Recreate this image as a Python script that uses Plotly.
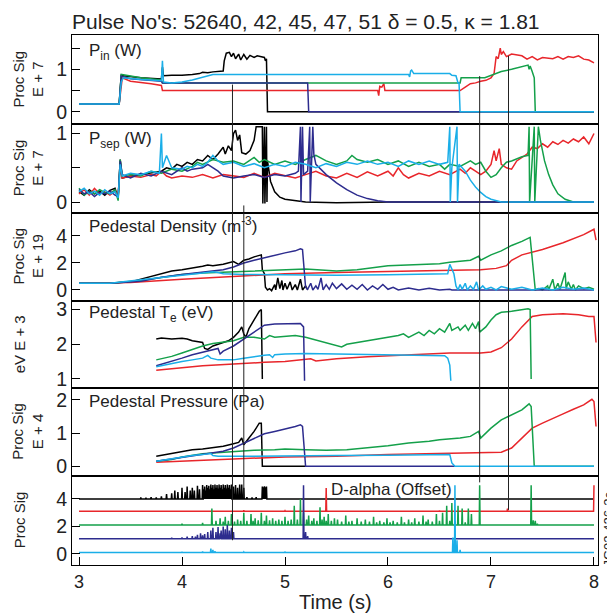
import plotly.graph_objects as go
from plotly.subplots import make_subplots

# ---------------- data (time s, value) ----------------
COLORS = {"black": "#000000", "red": "#e8262b", "green": "#14a04a", "navy": "#2d2c8e", "cyan": "#1aaee8"}
ORDER = ["black", "red", "green", "navy", "cyan"]

pin_black = [(3.0,0.18),(3.39,0.18),(3.41,0.86),(3.45,0.84),(3.6,0.8),(3.8,0.77),(3.81,1.05),(3.82,0.85),(3.9,0.86),(4.0,0.86),(4.1,0.88),(4.17,0.9),(4.2,0.93),(4.25,0.92),(4.3,0.94),(4.35,0.95),(4.4,0.96),(4.41,1.2),(4.43,1.38),(4.46,1.4),(4.48,1.3),(4.5,1.38),(4.52,1.25),(4.55,1.36),(4.57,1.22),(4.6,1.35),(4.63,1.24),(4.66,1.33),(4.7,1.28),(4.73,1.32),(4.76,1.3),(4.8,1.28),(4.81,1.2),(4.82,1.25),(4.83,0.0),(8.0,0.0)]
pin_red = [(3.0,0.18),(3.39,0.18),(3.42,0.8),(3.5,0.72),(3.7,0.66),(3.8,0.62),(3.81,0.5),(5.9,0.5),(5.91,0.38),(5.92,0.6),(5.94,0.58),(5.96,0.66),(5.97,0.5),(6.7,0.5),(6.75,0.58),(6.8,0.66),(6.85,0.68),(6.9,0.72),(6.95,0.74),(7.0,0.8),(7.03,0.9),(7.05,1.3),(7.07,1.25),(7.09,1.5),(7.1,1.35),(7.12,1.42),(7.15,1.3),(7.2,1.36),(7.3,1.32),(7.35,1.24),(7.4,1.3),(7.45,1.22),(7.5,1.28),(7.6,1.25),(7.65,1.3),(7.7,1.24),(7.75,1.3),(7.8,1.28),(7.85,1.32),(7.9,1.24),(7.95,1.22),(8.0,1.15)]
pin_navy = [(3.0,0.18),(3.39,0.18),(3.41,0.84),(3.5,0.78),(3.8,0.72),(3.81,0.68),(5.22,0.68),(5.23,0.0),(8.0,0.0)]
pin_green = [(3.0,0.18),(3.39,0.18),(3.41,0.88),(3.45,0.86),(3.6,0.8),(3.8,0.75),(3.81,0.68),(6.7,0.68),(6.71,0.8),(6.94,0.8),(7.0,0.85),(7.1,0.95),(7.2,1.0),(7.3,1.07),(7.36,1.1),(7.37,1.0),(7.38,1.08),(7.4,0.95),(7.42,0.8),(7.43,0.0),(8.0,0.0)]
pin_cyan = [(3.0,0.18),(3.39,0.18),(3.41,0.7),(3.43,0.8),(3.6,0.76),(3.8,0.73),(3.81,1.2),(3.82,0.7),(3.9,0.68),(4.0,0.7),(4.1,0.75),(4.2,0.82),(4.3,0.88),(6.2,0.88),(6.21,0.82),(6.22,0.96),(6.23,0.98),(6.25,0.9),(6.6,0.9),(6.62,0.86),(6.66,0.85),(6.68,0.68),(6.69,0.68),(6.7,0.0),(8.0,0.0)]

psep_black = [(3.0,0.15),(3.05,0.1),(3.1,0.18),(3.15,0.12),(3.2,0.16),(3.25,0.1),(3.3,0.17),(3.35,0.2),(3.38,0.05),(3.4,0.62),(3.42,0.35),(3.5,0.38),(3.6,0.4),(3.7,0.42),(3.8,0.45),(3.85,0.5),(3.9,0.48),(3.95,0.55),(4.0,0.52),(4.05,0.58),(4.1,0.55),(4.15,0.62),(4.2,0.6),(4.25,0.68),(4.3,0.62),(4.35,0.7),(4.4,0.8),(4.42,0.7),(4.45,0.82),(4.48,0.75),(4.5,1.0),(4.52,1.05),(4.54,0.9),(4.56,0.98),(4.58,0.72),(4.62,0.7),(4.66,0.75),(4.7,0.9),(4.72,1.1),(4.78,1.1),(4.785,-0.02),(4.8,1.1),(4.805,-0.02),(4.82,1.1),(4.825,0.0),(4.83,0.6),(4.86,0.3),(4.9,0.15),(4.95,0.07),(5.0,0.04),(5.1,0.02),(5.2,0.0),(5.5,-0.01),(6.0,0.0),(8.0,0.0)]
psep_red = [(3.0,0.12),(3.05,0.18),(3.1,0.1),(3.15,0.2),(3.2,0.12),(3.25,0.15),(3.3,0.1),(3.35,0.16),(3.38,0.1),(3.4,0.5),(3.42,0.35),(3.5,0.38),(3.6,0.36),(3.7,0.4),(3.75,0.38),(3.8,0.45),(3.85,0.38),(3.9,0.35),(4.0,0.38),(4.1,0.36),(4.2,0.4),(4.3,0.35),(4.4,0.4),(4.5,0.38),(4.6,0.36),(4.7,0.42),(4.8,0.36),(4.9,0.42),(5.0,0.38),(5.1,0.35),(5.2,0.4),(5.3,0.45),(5.4,0.38),(5.5,0.35),(5.6,0.42),(5.7,0.36),(5.8,0.44),(5.9,0.38),(6.0,0.45),(6.05,0.38),(6.1,0.5),(6.15,0.4),(6.2,0.35),(6.3,0.42),(6.4,0.38),(6.5,0.45),(6.6,0.4),(6.7,0.48),(6.75,0.42),(6.8,0.5),(6.85,0.45),(6.9,0.4),(6.95,0.45),(7.0,0.55),(7.03,0.75),(7.05,0.6),(7.08,0.78),(7.1,0.55),(7.15,0.5),(7.2,0.48),(7.25,0.6),(7.3,0.65),(7.35,0.7),(7.4,0.8),(7.45,0.78),(7.5,0.85),(7.55,0.8),(7.6,0.88),(7.65,0.84),(7.7,0.9),(7.75,0.86),(7.8,0.92),(7.85,0.88),(7.9,0.95),(7.95,0.85),(8.0,1.0)]
psep_green = [(3.0,0.2),(3.05,0.1),(3.1,0.16),(3.15,0.12),(3.2,0.18),(3.25,0.14),(3.3,0.12),(3.35,0.18),(3.38,0.02),(3.4,0.62),(3.42,0.38),(3.5,0.4),(3.6,0.38),(3.7,0.45),(3.8,0.42),(3.9,0.48),(4.0,0.45),(4.1,0.52),(4.15,0.58),(4.2,0.55),(4.3,0.62),(4.4,0.58),(4.5,0.6),(4.6,0.55),(4.7,0.65),(4.75,0.58),(4.8,0.62),(4.9,0.55),(5.0,0.6),(5.1,0.55),(5.2,0.62),(5.3,0.68),(5.4,0.6),(5.5,0.55),(5.6,0.6),(5.65,0.68),(5.7,0.62),(5.8,0.58),(5.9,0.62),(6.0,0.55),(6.1,0.6),(6.2,0.52),(6.3,0.58),(6.4,0.52),(6.5,0.55),(6.55,0.48),(6.6,0.55),(6.7,0.52),(6.8,0.6),(6.85,0.55),(6.9,0.58),(6.95,0.45),(7.0,0.36),(7.05,0.4),(7.1,0.5),(7.15,0.58),(7.2,0.6),(7.25,0.63),(7.3,0.66),(7.36,0.68),(7.37,1.1),(7.375,0.0),(7.42,1.1),(7.425,0.0),(7.46,1.1),(7.48,0.9),(7.52,0.6),(7.56,0.4),(7.6,0.25),(7.65,0.12),(7.72,0.04),(7.8,0.0),(8.0,0.0)]
psep_navy = [(3.0,0.18),(3.05,0.12),(3.1,0.15),(3.15,0.08),(3.2,0.14),(3.25,0.12),(3.3,0.16),(3.35,0.1),(3.38,0.08),(3.4,0.6),(3.42,0.4),(3.5,0.35),(3.6,0.42),(3.7,0.38),(3.8,0.45),(3.9,0.4),(4.0,0.5),(4.05,0.45),(4.1,0.48),(4.2,0.5),(4.25,0.55),(4.3,0.5),(4.35,0.45),(4.4,0.38),(4.5,0.35),(4.6,0.38),(4.7,0.4),(4.8,0.36),(4.9,0.4),(5.0,0.38),(5.1,0.42),(5.13,0.45),(5.15,1.1),(5.155,0.0),(5.17,1.1),(5.18,0.4),(5.22,0.45),(5.24,1.1),(5.245,0.0),(5.27,1.1),(5.28,0.7),(5.3,0.55),(5.35,0.48),(5.4,0.4),(5.5,0.28),(5.6,0.18),(5.7,0.1),(5.8,0.05),(5.9,0.02),(6.0,0.0),(8.0,0.0)]
psep_cyan = [(3.0,0.15),(3.05,0.2),(3.1,0.12),(3.15,0.16),(3.2,0.1),(3.25,0.18),(3.3,0.12),(3.35,0.15),(3.38,0.06),(3.4,0.55),(3.42,0.38),(3.5,0.42),(3.6,0.4),(3.7,0.45),(3.78,0.42),(3.8,1.0),(3.81,0.5),(3.85,0.68),(3.9,0.5),(4.0,0.48),(4.05,0.52),(4.1,0.5),(4.15,0.55),(4.2,0.52),(4.25,0.58),(4.3,0.68),(4.35,0.6),(4.4,0.55),(4.5,0.58),(4.6,0.52),(4.7,0.56),(4.8,0.5),(4.9,0.55),(5.0,0.52),(5.1,0.58),(5.2,0.55),(5.3,0.5),(5.4,0.56),(5.5,0.52),(5.6,0.58),(5.7,0.55),(5.8,0.6),(5.9,0.55),(6.0,0.58),(6.1,0.52),(6.2,0.6),(6.3,0.55),(6.4,0.6),(6.5,0.55),(6.58,0.58),(6.6,1.1),(6.605,0.0),(6.62,0.5),(6.67,1.1),(6.675,0.0),(6.69,0.55),(6.75,0.45),(6.8,0.32),(6.85,0.22),(6.9,0.14),(6.95,0.08),(7.0,0.04),(7.1,0.0),(8.0,0.0)]

dens_black = [(3.0,0.5),(3.3,0.5),(3.5,0.6),(3.6,0.8),(3.7,1.0),(3.8,1.2),(3.9,1.4),(4.0,1.5),(4.1,1.6),(4.2,1.75),(4.25,1.85),(4.3,1.8),(4.4,1.9),(4.45,2.0),(4.5,2.1),(4.55,1.9),(4.6,2.2),(4.65,2.3),(4.7,2.45),(4.77,2.6),(4.78,1.5),(4.8,1.2),(4.81,0.2),(4.83,0.0),(4.85,0.1),(4.87,-0.05),(4.9,0.4),(4.91,0.0),(4.93,0.9),(4.95,0.1),(4.97,0.7),(4.98,0.0),(5.0,0.5),(5.02,0.05),(5.05,0.6),(5.07,0.0),(5.1,0.4),(5.12,0.0),(5.15,0.8),(5.17,0.0),(5.2,0.3),(5.22,0.0)]
dens_red = [(3.0,0.5),(3.5,0.55),(4.0,0.8),(4.5,1.0),(5.0,1.2),(5.5,1.3),(6.0,1.35),(6.2,1.4),(6.5,1.45),(6.9,1.5),(7.05,1.6),(7.15,1.8),(7.2,2.2),(7.3,2.6),(7.5,3.0),(7.7,3.5),(7.9,4.1),(8.0,4.5),(8.02,3.7)]
dens_green = [(3.0,0.5),(3.3,0.5),(3.6,0.7),(3.8,0.95),(4.0,1.15),(4.2,1.25),(4.5,1.35),(4.8,1.45),(5.0,1.5),(5.2,1.55),(5.5,1.4),(5.7,1.5),(6.0,1.8),(6.2,1.85),(6.5,1.95),(6.6,2.05),(6.8,2.2),(6.88,2.5),(6.9,2.2),(7.0,2.6),(7.1,2.9),(7.2,3.3),(7.3,3.6),(7.38,3.9),(7.4,2.3),(7.43,0.0),(7.46,0.1),(7.5,0.0),(7.55,0.3),(7.56,0.0),(7.6,0.8),(7.62,0.0),(7.65,0.5),(7.67,0.05),(7.72,1.3),(7.73,0.1),(7.75,0.6),(7.78,0.05),(7.8,0.4),(7.82,0.0),(7.85,0.3),(7.9,0.1),(7.95,0.2),(8.0,0.05)]
dens_navy = [(3.0,0.5),(3.3,0.5),(3.6,0.65),(3.8,0.95),(4.0,1.15),(4.2,1.3),(4.4,1.5),(4.5,1.7),(4.6,2.0),(4.7,2.2),(4.8,2.4),(4.9,2.6),(5.0,2.75),(5.1,2.9),(5.15,3.05),(5.17,3.0),(5.2,0.2),(5.22,0.05),(5.25,0.5),(5.27,0.0),(5.3,0.3),(5.32,0.05),(5.35,0.9),(5.37,0.0),(5.4,0.4),(5.43,0.05),(5.46,0.5),(5.5,0.1),(5.55,0.45),(5.6,0.05),(5.65,0.35),(5.7,0.05),(5.75,0.4),(5.8,0.0),(5.85,0.3),(5.9,0.05),(5.95,0.4),(6.0,0.05),(6.05,0.2),(6.1,0.0),(6.2,0.15),(6.3,0.0),(6.4,0.12),(6.5,0.0),(6.6,0.05),(6.62,0.0),(8.0,0.0)]
dens_cyan = [(3.0,0.5),(3.3,0.5),(3.6,0.75),(3.8,0.95),(4.0,1.1),(4.2,1.25),(4.3,1.35),(4.35,1.3),(4.4,1.2),(4.6,1.15),(5.0,1.12),(5.5,1.1),(6.0,1.12),(6.5,1.15),(6.58,1.2),(6.6,1.9),(6.62,1.6),(6.64,1.2),(6.66,0.3),(6.68,0.0),(6.7,0.4),(6.72,0.05),(6.75,0.5),(6.77,0.0),(6.8,0.3),(6.83,0.05),(6.86,0.6),(6.88,0.0),(6.92,0.3),(6.95,0.05),(7.0,0.2),(7.05,0.0),(7.1,0.25),(7.2,0.05),(7.3,0.2),(7.4,0.0),(7.5,0.15),(7.6,0.0),(7.7,0.2),(7.8,0.05),(7.9,0.15),(8.0,0.0)]

te_black = [(3.75,2.15),(3.8,2.18),(3.9,2.15),(4.0,2.17),(4.05,2.15),(4.1,2.1),(4.2,2.05),(4.22,1.88),(4.25,1.85),(4.3,1.95),(4.35,2.0),(4.4,2.05),(4.45,2.1),(4.5,2.2),(4.55,2.35),(4.58,2.5),(4.6,2.3),(4.62,2.2),(4.65,2.45),(4.7,2.7),(4.75,2.95),(4.77,3.0),(4.78,1.0)]
te_red = [(3.75,1.25),(3.9,1.28),(4.0,1.32),(4.2,1.38),(4.4,1.42),(4.6,1.45),(4.8,1.48),(5.0,1.5),(5.2,1.55),(5.25,1.58),(5.3,1.52),(5.5,1.58),(5.8,1.64),(6.0,1.67),(6.3,1.7),(6.6,1.75),(6.9,1.75),(7.0,1.78),(7.1,1.9),(7.2,2.15),(7.3,2.5),(7.35,2.65),(7.4,2.8),(7.5,2.85),(7.7,2.88),(7.85,2.85),(7.95,2.8),(8.0,2.8),(8.02,2.05)]
te_green = [(3.75,1.55),(3.9,1.65),(4.0,1.75),(4.1,1.85),(4.2,1.95),(4.3,2.02),(4.4,2.05),(4.5,2.1),(4.6,2.2),(4.7,2.2),(4.8,2.15),(4.85,2.25),(4.9,2.2),(5.0,2.22),(5.1,2.25),(5.2,2.2),(5.3,2.12),(5.4,2.05),(5.5,1.98),(5.55,1.92),(5.6,2.0),(5.7,2.05),(5.8,2.1),(5.9,2.15),(6.0,2.2),(6.1,2.25),(6.15,2.3),(6.2,2.2),(6.3,2.35),(6.35,2.25),(6.4,2.4),(6.45,2.3),(6.5,2.45),(6.55,2.35),(6.6,2.6),(6.62,2.4),(6.68,2.5),(6.7,2.4),(6.75,2.55),(6.78,2.4),(6.82,2.6),(6.85,2.45),(6.88,2.65),(6.89,2.35),(6.95,2.5),(7.0,2.7),(7.05,2.85),(7.1,2.92),(7.2,2.95),(7.3,3.0),(7.36,3.02),(7.38,3.0),(7.39,1.0)]
te_navy = [(3.75,1.38),(3.9,1.5),(4.0,1.6),(4.1,1.7),(4.2,1.78),(4.3,1.85),(4.35,1.88),(4.37,1.72),(4.4,1.8),(4.5,1.95),(4.6,2.15),(4.7,2.35),(4.8,2.55),(4.9,2.58),(5.0,2.58),(5.1,2.6),(5.15,2.6),(5.18,2.5),(5.19,0.95)]
te_cyan = [(3.75,1.35),(3.9,1.45),(4.0,1.5),(4.1,1.55),(4.2,1.6),(4.25,1.68),(4.28,1.6),(4.35,1.55),(4.5,1.55),(4.6,1.6),(4.7,1.65),(4.8,1.68),(4.85,1.7),(4.88,1.62),(4.9,1.7),(5.0,1.72),(5.2,1.73),(5.4,1.72),(5.6,1.73),(5.8,1.72),(6.0,1.7),(6.2,1.7),(6.4,1.68),(6.55,1.67),(6.58,1.6),(6.6,1.4),(6.61,0.95)]

pres_black = [(3.75,0.3),(3.9,0.38),(4.0,0.45),(4.1,0.5),(4.2,0.52),(4.3,0.55),(4.4,0.6),(4.5,0.68),(4.55,0.72),(4.58,0.85),(4.6,0.65),(4.65,0.85),(4.7,1.05),(4.75,1.3),(4.77,1.3),(4.78,0.0),(5.2,0.0)]
pres_red = [(3.75,0.12),(4.0,0.16),(4.5,0.22),(5.0,0.28),(5.5,0.3),(6.0,0.35),(6.5,0.38),(6.9,0.4),(7.1,0.42),(7.2,0.55),(7.3,0.85),(7.4,1.15),(7.5,1.3),(7.6,1.45),(7.7,1.58),(7.8,1.72),(7.9,1.85),(7.98,2.02),(8.0,1.95),(8.02,1.2)]
pres_green = [(3.75,0.15),(3.9,0.2),(4.0,0.28),(4.1,0.33),(4.2,0.38),(4.3,0.4),(4.5,0.45),(4.7,0.48),(4.9,0.5),(5.0,0.52),(5.2,0.5),(5.4,0.48),(5.6,0.5),(5.8,0.55),(6.0,0.62),(6.2,0.7),(6.4,0.75),(6.5,0.8),(6.6,0.82),(6.7,0.85),(6.8,0.9),(6.88,1.05),(6.9,0.85),(7.0,1.15),(7.1,1.4),(7.2,1.55),(7.3,1.7),(7.37,1.88),(7.39,1.8),(7.42,0.0),(8.0,0.0)]
pres_navy = [(3.75,0.15),(3.9,0.22),(4.0,0.28),(4.1,0.33),(4.2,0.37),(4.3,0.42),(4.4,0.45),(4.5,0.55),(4.6,0.7),(4.7,0.85),(4.8,0.98),(4.9,1.05),(5.0,1.12),(5.1,1.2),(5.15,1.25),(5.17,1.2),(5.2,0.0),(6.65,0.0)]
pres_cyan = [(3.75,0.15),(3.9,0.22),(4.0,0.28),(4.1,0.32),(4.2,0.35),(4.28,0.38),(4.3,0.32),(4.35,0.3),(4.6,0.3),(5.0,0.3),(5.5,0.32),(6.0,0.33),(6.5,0.35),(6.6,0.35),(6.62,0.1),(6.65,0.0),(8.0,0.0)]

# D-alpha: offset baseline per pulse + spikes (time, peak)
da_base = {"black": 4.0, "red": 3.1, "green": 2.1, "navy": 1.1, "cyan": 0.1}
da_black_spikes = [(3.6,4.1),(3.65,4.08),(3.7,4.12),(3.75,4.1),(3.8,4.18),(3.85,4.35),(3.9,4.4),(3.93,4.6),(3.96,4.5),(4.0,4.8),(4.03,4.5),(4.05,4.9),(4.08,4.6),(4.1,4.8),(4.12,4.6),(4.15,4.95),(4.17,4.7),(4.2,5.0),(4.21,4.7),(4.22,4.9),(4.23,4.6),(4.24,5.0),(4.25,4.8),(4.26,4.95),(4.27,4.7),(4.28,5.05),(4.29,4.8),(4.3,5.0),(4.31,4.7),(4.32,5.05),(4.33,4.8),(4.34,5.0),(4.35,4.75),(4.36,5.05),(4.37,4.8),(4.38,5.0),(4.39,4.7),(4.4,5.05),(4.41,4.8),(4.42,5.0),(4.43,4.75),(4.44,5.05),(4.45,4.8),(4.46,5.0),(4.47,4.7),(4.48,5.05),(4.5,4.9),(4.52,5.0),(4.54,4.8),(4.56,5.05),(4.58,5.05),(4.6,4.8),(4.63,4.12),(4.68,4.1),(4.72,4.12),(4.78,4.9),(4.79,4.85),(4.8,4.92),(4.81,4.85),(4.82,4.9)]
da_red_spikes = [(4.2,3.15),(4.6,3.18),(5.0,3.15),(5.4,4.8),(6.0,3.15),(6.5,3.16),(7.16,3.3),(7.6,3.15)]
da_green_spikes = [(3.6,2.15),(4.0,2.2),(4.2,2.25),(4.29,3.3),(4.33,2.4),(4.37,2.6),(4.4,2.35),(4.42,2.7),(4.45,2.4),(4.48,2.9),(4.51,2.35),(4.54,2.5),(4.57,2.4),(4.6,3.0),(4.63,2.4),(4.67,2.9),(4.69,2.4),(4.71,2.6),(4.74,2.45),(4.77,3.0),(4.8,2.4),(4.82,2.8),(4.85,2.45),(4.88,2.6),(4.91,2.4),(4.94,2.5),(4.97,2.4),(5.0,2.7),(5.03,2.4),(5.06,2.5),(5.09,3.5),(5.12,2.5),(5.15,4.0),(5.18,3.0),(5.21,2.5),(5.23,2.8),(5.26,2.4),(5.28,2.6),(5.31,2.4),(5.34,3.4),(5.36,2.5),(5.38,2.7),(5.4,2.4),(5.42,2.9),(5.45,2.4),(5.48,2.6),(5.51,2.5),(5.55,2.35),(5.59,2.8),(5.62,2.35),(5.65,2.4),(5.7,2.6),(5.74,2.35),(5.78,2.5),(5.82,2.35),(5.86,2.7),(5.89,2.3),(5.92,2.4),(5.96,2.3),(5.99,2.6),(6.02,2.3),(6.05,2.4),(6.09,2.3),(6.13,2.7),(6.16,2.3),(6.2,2.5),(6.23,2.3),(6.26,2.6),(6.3,2.35),(6.34,2.8),(6.37,2.35),(6.39,2.5),(6.43,2.35),(6.47,2.9),(6.5,2.4),(6.53,3.0),(6.57,3.5),(6.6,2.4),(6.62,3.7),(6.65,2.4),(6.68,3.5),(6.72,3.3),(6.75,2.3),(6.78,3.3),(6.81,2.9),(6.89,5.0),(7.39,5.0),(7.41,2.45),(7.43,2.4),(7.45,2.2)]
da_navy_spikes = [(3.6,1.15),(3.9,1.18),(4.0,1.2),(4.05,1.25),(4.1,1.3),(4.13,1.25),(4.15,1.4),(4.18,1.5),(4.2,1.35),(4.22,1.45),(4.25,1.6),(4.28,1.7),(4.3,1.9),(4.33,1.6),(4.35,1.95),(4.37,1.5),(4.38,1.7),(4.4,2.0),(4.42,1.8),(4.44,2.1),(4.46,1.7),(4.48,1.9),(4.5,1.6),(5.18,5.0),(5.2,1.6),(5.22,1.3),(5.24,1.15)]
da_cyan_spikes = [(3.6,0.14),(4.0,0.16),(4.2,0.18),(4.28,0.4),(4.3,0.3),(4.32,0.2),(4.6,0.15),(5.0,0.14),(6.63,1.2),(6.65,5.0),(6.67,1.0),(6.7,0.3),(6.72,0.12)]
da_red_final = (8.0, 5.0)

panel_labels = ["P<sub>in</sub> (W)", "P<sub>sep</sub> (W)", "Pedestal Density (m<sup>-3</sup>)",
                "Pedestal T<sub>e</sub> (eV)", "Pedestal Pressure (Pa)"]
panel_label_y = [1.4, 0.9, 4.85, 2.87, 1.95]
ytitles = ["Proc Sig<br>E + 7", "Proc Sig<br>E + 7", "Proc Sig<br>E + 19", "eV E + 3", "Proc Sig<br>E + 4", "Proc Sig"]
ytitle_px = [28, 28, 28, 19, 28, 19]      # centre of title block, window pixels
yranges = [[-0.29, 1.81], [-0.153, 1.139], [-0.78, 5.74], [0.74, 3.26], [-0.28, 2.36], [-0.8, 5.7]]
ytickvals = [[0, 0.5, 1, 1.5], [0, 0.5, 1], [0, 2, 4], [1, 2, 3], [0, 1, 2], [0, 2, 4]]
yticktext = [["0", "", "1", ""], ["0", "", "1"], ["0", "2", "4"], ["1", "2", "3"], ["0", "1", "2"], ["0", "2", "4"]]
xticks = [3, 4, 5, 6, 7, 8]

# event marker lines: time, (row, value) at top end, (row, value) at bottom end
event_t = [4.49, 4.60, 6.89, 7.17]
event_top = [(1, 0.64), (2, -0.05), (1, 0.84), (1, 1.32)]
event_bottom = [(6, 1.0), (6, 4.1), (6, 5.2), (6, 3.2)]

# ---------------- figure ----------------
FONT = "Liberation Sans, Arial, Helvetica, sans-serif"
OFF = 8                      # page body margin
FW, FH = 607, 607
L, R, T, B = 64, 17, 27, 50
PW, PH = FW - L - R, FH - T - B
row_heights = [89, 88.5, 88, 87.5, 87.5, 89.5]
fig = make_subplots(rows=6, cols=1, shared_xaxes=True, vertical_spacing=0, row_heights=row_heights)

panels = [
    {"black": pin_black, "red": pin_red, "green": pin_green, "navy": pin_navy, "cyan": pin_cyan},
    {"black": psep_black, "red": psep_red, "green": psep_green, "navy": psep_navy, "cyan": psep_cyan},
    {"black": dens_black, "red": dens_red, "green": dens_green, "navy": dens_navy, "cyan": dens_cyan},
    {"black": te_black, "red": te_red, "green": te_green, "navy": te_navy, "cyan": te_cyan},
    {"black": pres_black, "red": pres_red, "green": pres_green, "navy": pres_navy, "cyan": pres_cyan},
]
LW = 1.5
for r, p in enumerate(panels, start=1):
    for k in ORDER:
        pts = p[k]
        fig.add_trace(go.Scatter(x=[a for a, b in pts], y=[b for a, b in pts], mode="lines",
                                 line=dict(color=COLORS[k], width=LW), showlegend=False), row=r, col=1)

da_spikes = {"black": da_black_spikes, "red": da_red_spikes, "green": da_green_spikes,
             "navy": da_navy_spikes, "cyan": da_cyan_spikes}
W = 0.004
for k in ORDER:
    base = da_base[k]
    xs, ys = [3.0], [base]
    for t, pk in da_spikes[k]:
        xs += [t - W, t, t + W]
        ys += [base, pk, base]
    if k == "red":
        xs += [da_red_final[0] - W, da_red_final[0]]
        ys += [base, da_red_final[1]]
    else:
        xs.append(8.0); ys.append(base)
    fig.add_trace(go.Scatter(x=xs, y=ys, mode="lines", line=dict(color=COLORS[k], width=LW),
                             showlegend=False), row=6, col=1)

for r in range(1, 7):
    fig.update_yaxes(row=r, col=1, range=yranges[r-1], tickvals=ytickvals[r-1], ticktext=yticktext[r-1],
                     ticks="inside", ticklen=8, tickcolor="black", showline=True, mirror=True,
                     linecolor="black", linewidth=1, showgrid=False, zeroline=False,
                     tickfont=dict(family=FONT, size=19.5, color="#222"))
    fig.update_xaxes(row=r, col=1, range=[2.932, 8.039], tickvals=xticks, showline=True, mirror=True,
                     linecolor="black", linewidth=1, showgrid=False, zeroline=False,
                     ticks="inside" if r == 6 else "", ticklen=8, tickcolor="black",
                     tickfont=dict(family=FONT, size=18, color="#222"))

annotations = []
for i, txt in enumerate(panel_labels):
    yref = "y" if i == 0 else f"y{i+1}"
    annotations.append(dict(x=3.08, y=panel_label_y[i], xref="x", yref=yref, text=txt, showarrow=False,
                            xanchor="left", yanchor="middle", font=dict(family=FONT, size=17, color="#222")))
annotations.append(dict(x=6.03, y=4.68, xref="x6", yref="y6", text="D-alpha (Offset)", showarrow=False,
                        xanchor="center", yanchor="middle", font=dict(family=FONT, size=17, color="#222")))
for i, txt in enumerate(ytitles):
    yref = "y domain" if i == 0 else f"y{i+1} domain"
    annotations.append(dict(x=(ytitle_px[i] - OFF - L) / PW, y=0.5, xref="paper", yref=yref, text=txt,
                            showarrow=False, textangle=-90, xanchor="center", yanchor="middle",
                            font=dict(family=FONT, size=15, color="#222")))
annotations.append(dict(x=(607.5 - OFF - L) / PW, y=(FH - B - (529 - OFF)) / PH, xref="paper", yref="paper",
                        text="JG03.426-3c", showarrow=False, textangle=-90, xanchor="center", yanchor="middle",
                        font=dict(family=FONT, size=13, color="#222")))
annotations.append(dict(x=0.5, y=-((602 - OFF) - (FH - B)) / PH, xref="paper", yref="paper", text="Time (s)",
                        showarrow=False, xanchor="center", yanchor="middle",
                        font=dict(family=FONT, size=20, color="#222")))

shapes = []
for t, (r0, v0), (r1, v1) in zip(event_t, event_top, event_bottom):
    for r in range(r0, r1 + 1):
        xr = "x" if r == 1 else f"x{r}"
        yr = "y" if r == 1 else f"y{r}"
        lo, hi = yranges[r-1]
        top = v0 if r == r0 else hi
        bot = v1 if r == r1 else lo
        shapes.append(dict(type="line", xref=xr, yref=yr, x0=t, x1=t, y0=top, y1=bot,
                           line=dict(color="#222", width=1)))

fig.update_layout(
    width=FW, height=FH, margin=dict(l=L, r=R, t=T, b=B),
    paper_bgcolor="white", plot_bgcolor="white",
    title=dict(text="Pulse No's: 52640, 42, 45, 47, 51 \u03b4 = 0.5, \u03ba = 1.81",
               xref="paper", x=0, xanchor="left", yref="container", y=1 - (21.5 - OFF) / FH, yanchor="middle",
               font=dict(family=FONT, size=21, color="#222")),
    annotations=annotations, shapes=shapes, showlegend=False,
)
fig.write_html("out.html")
